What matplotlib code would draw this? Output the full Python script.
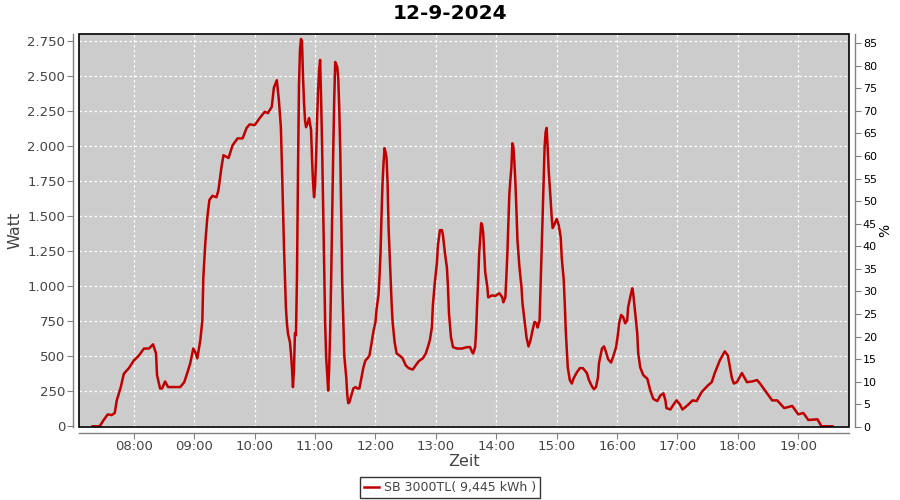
import matplotlib
matplotlib.use("Agg")
import matplotlib.pyplot as plt
import matplotlib.dates as mdates
from matplotlib.patches import Rectangle
from matplotlib.ticker import FuncFormatter
import pandas as pd

# ── Data ──────────────────────────────────────────────────────────────────────
DAY = "2024-09-12"
TITLE = "12-9-2024"
SERIES_LABEL = "SB 3000TL( 9,445 kWh )"

times = [
    "07:19", "07:26", "07:30", "07:34", "07:38", "07:41", "07:43", "07:47", "07:50", "07:55",
    "08:00", "08:05", "08:10", "08:15", "08:19", "08:22", "08:23", "08:26", "08:28", "08:31",
    "08:34", "08:42", "08:46", "08:50", "08:53", "08:56", "08:59", "09:01", "09:03", "09:06",
    "09:08", "09:09", "09:11", "09:13", "09:15", "09:18", "09:22", "09:24", "09:27", "09:29",
    "09:34", "09:38", "09:43", "09:48", "09:52", "09:55", "10:00", "10:05", "10:10", "10:13",
    "10:17", "10:19", "10:22", "10:24", "10:26", "10:27", "10:28", "10:29", "10:30", "10:31",
    "10:32", "10:33", "10:35", "10:36", "10:37", "10:38", "10:39", "10:40", "10:41", "10:42",
    "10:43", "10:44", "10:45", "10:46", "10:47", "10:48", "10:49", "10:50", "10:51", "10:53",
    "10:54", "10:56", "10:57", "10:58", "10:59", "11:00", "11:01", "11:02", "11:03", "11:04",
    "11:05", "11:06", "11:07", "11:08", "11:09", "11:10", "11:11", "11:12", "11:13", "11:14",
    "11:15", "11:16", "11:17", "11:18", "11:19", "11:20", "11:22", "11:23", "11:24", "11:25",
    "11:26", "11:27", "11:28", "11:29", "11:31", "11:32", "11:33", "11:34", "11:36", "11:38",
    "11:40", "11:42", "11:44", "11:46", "11:48", "11:50", "11:52", "11:54", "11:56", "11:58",
    "12:00", "12:01", "12:03", "12:04", "12:05", "12:06", "12:07", "12:08", "12:09", "12:10",
    "12:11", "12:12", "12:13", "12:14", "12:15", "12:16", "12:17", "12:19", "12:21", "12:24",
    "12:27", "12:30", "12:33", "12:37", "12:40", "12:43", "12:47", "12:50", "12:52", "12:54",
    "12:56", "12:57", "12:59", "13:01", "13:02", "13:04", "13:06", "13:07", "13:09", "13:11",
    "13:12", "13:13", "13:15", "13:17", "13:21", "13:26", "13:31", "13:34", "13:36", "13:37",
    "13:39", "13:40", "13:41", "13:42", "13:43", "13:45", "13:46", "13:47", "13:48", "13:49",
    "13:51", "13:52", "13:56", "13:59", "14:03", "14:06", "14:07", "14:09", "14:10", "14:11",
    "14:12", "14:13", "14:15", "14:16", "14:17", "14:18", "14:19", "14:20", "14:21", "14:23",
    "14:25", "14:26", "14:28", "14:30", "14:32", "14:34", "14:36", "14:38", "14:40", "14:41",
    "14:43", "14:44", "14:45", "14:46", "14:47", "14:48", "14:49", "14:50", "14:51", "14:52",
    "14:54", "14:55", "14:56", "14:58", "15:00", "15:02", "15:04", "15:05", "15:07", "15:08",
    "15:09", "15:10", "15:11", "15:13", "15:15", "15:17", "15:20", "15:23", "15:26", "15:30",
    "15:32", "15:35", "15:37", "15:39", "15:41", "15:42", "15:45", "15:47", "15:49", "15:51",
    "15:54", "15:56", "15:59", "16:01", "16:02", "16:04", "16:06", "16:08", "16:10", "16:11",
    "16:13", "16:15", "16:16", "16:18", "16:20", "16:21", "16:23", "16:26", "16:30", "16:33",
    "16:36", "16:40", "16:43", "16:46", "16:48", "16:49", "16:53", "16:56", "16:59", "17:02",
    "17:05", "17:10", "17:15", "17:19", "17:24", "17:30", "17:34", "17:37", "17:42", "17:47",
    "17:50", "17:54", "17:56", "17:59", "18:04", "18:09", "18:14", "18:19", "18:22", "18:27",
    "18:34", "18:39", "18:46", "18:54", "19:00", "19:05", "19:10", "19:19", "19:23", "19:34",
]

watts = [
    0, 0, 45, 85, 80, 95, 185, 280, 375, 415,
    470, 505, 555, 555, 585, 520, 365, 270, 270, 320,
    280, 280, 280, 315, 380, 450, 555, 530, 485, 615,
    755, 1065, 1315, 1495, 1615, 1645, 1635, 1685, 1850, 1935,
    1915, 2005, 2055, 2055, 2130, 2155, 2150, 2200, 2245, 2235,
    2280, 2415, 2470, 2330, 2135, 1880, 1595, 1305, 1065, 850,
    735, 665, 600, 520, 420, 280, 400, 665, 650, 1065,
    1800, 2435, 2685, 2765, 2745, 2495, 2315, 2185, 2135, 2170,
    2200, 2115, 1900, 1735, 1635, 1720, 1915, 2185, 2400, 2545,
    2615, 2330, 1985, 1565, 1135, 735, 495, 380, 255, 420,
    685, 1065, 1530, 1955, 2330, 2600, 2565, 2485, 2270, 1970,
    1480, 1020, 770, 505, 345, 220, 165, 170, 220, 270,
    280, 270, 270, 345, 420, 470, 485, 505, 590, 680,
    745, 830, 940, 1070, 1235, 1505, 1735, 1880, 1985, 1955,
    1915, 1735, 1420, 1235, 1045, 880, 745, 600, 520, 505,
    485, 435, 415, 405, 435, 465, 485, 520, 565, 615,
    705, 865, 1030, 1165, 1290, 1400, 1400, 1365, 1235, 1130,
    995, 805, 635, 565, 555, 555, 565, 565, 530, 520,
    565, 685, 880, 1045, 1235, 1450, 1435, 1380, 1235, 1100,
    1000, 920, 935, 930, 950, 920, 885, 920, 1065, 1235,
    1450, 1665, 1850, 2020, 1995, 1885, 1735, 1545, 1330, 1135,
    995, 880, 755, 635, 570, 615, 685, 745, 735, 705,
    755, 995, 1235, 1495, 1755, 1995, 2100, 2130, 1995, 1830,
    1615, 1495, 1415, 1445, 1480, 1435, 1350, 1205, 1045, 880,
    685, 545, 420, 330, 305, 345, 385, 415, 415, 380,
    330, 285, 265, 280, 350, 450, 555, 570, 530, 480,
    455, 495, 565, 665, 735, 795, 780, 735, 755, 850,
    920, 985, 950, 805, 665, 520, 420, 365, 340, 255,
    195, 180, 220, 235, 185, 130, 120, 155, 185, 160,
    120, 150, 185, 180, 245, 290, 315, 380, 470, 535,
    505, 345, 305, 315, 380, 315, 320, 330, 305, 255,
    185, 185, 130, 145, 85, 95, 45, 50, 0, 0,
]

watt_ticks = list(range(0, 2751, 250))
pct_ticks = list(range(0, 86, 5))

# ── Styling ───────────────────────────────────────────────────────────────────
LINE_RED = "#c00000"
PLOT_BG = "#cccccc"
AXIS_GREY = "#808080"
LABEL_GREY = "#444444"

plt.rcParams.update({
    "font.family": "DejaVu Sans",
    "axes.linewidth": 1.0,
})

t = pd.to_datetime([f"{DAY} {s}" for s in times])

fig = plt.figure(figsize=(9, 5), dpi=100, facecolor="white")
ax = fig.add_axes([0.0878, 0.146, 0.8555, 0.786])
ax.set_facecolor(PLOT_BG)

ax.plot(t, watts, color=LINE_RED, linewidth=1.8, label=SERIES_LABEL, zorder=3)

ax.set_xlim(pd.Timestamp(f"{DAY} 07:05:30"), pd.Timestamp(f"{DAY} 19:50:20"))
ax.set_ylim(-5, 2800)
ax.set_yticks(watt_ticks)
ax.yaxis.set_major_formatter(
    FuncFormatter(lambda v, _: f"{int(v):,}".replace(",", ".")))
ax.xaxis.set_major_locator(mdates.HourLocator())
ax.xaxis.set_major_formatter(mdates.DateFormatter("%H:%M"))

ax.grid(True, color="white", linestyle=(0, (2, 2)), linewidth=0.9, zorder=1)
ax.set_axisbelow(True)

# axis lines offset from the plot frame, frame drawn separately in black
for side in ("left", "bottom"):
    ax.spines[side].set_position(("outward", 4))
    ax.spines[side].set_color(AXIS_GREY)
for side in ("top", "right"):
    ax.spines[side].set_visible(False)
ax.add_patch(Rectangle((0, 0), 1, 1, transform=ax.transAxes, fill=False,
                       edgecolor="black", linewidth=1.2, clip_on=False, zorder=5))

ax.tick_params(axis="both", direction="out", length=4, color=AXIS_GREY,
               labelsize=9.5, labelcolor=LABEL_GREY, pad=2)
ax.tick_params(axis="x", pad=1)

ax.set_ylabel("Watt", fontsize=11.5, color=LABEL_GREY, labelpad=3)
ax.set_xlabel("Zeit", fontsize=11.5, color=LABEL_GREY, labelpad=1)
fig.text(0.5, 0.973, TITLE, ha="center", va="center",
         fontsize=14.5, fontweight="bold")

# right percentage axis
ax2 = ax.twinx()
ax2.set_ylim(0, 87)
ax2.set_yticks(pct_ticks)
for side in ("left", "bottom", "top"):
    ax2.spines[side].set_visible(False)
ax2.spines["right"].set_position(("outward", 4))
ax2.spines["right"].set_color(AXIS_GREY)
ax2.tick_params(axis="y", direction="out", length=4, color=AXIS_GREY,
                labelsize=8, labelcolor="black", pad=2)
ax2.set_ylabel("%", fontsize=10, rotation=90, labelpad=1)

leg = fig.legend(loc="lower center", bbox_to_anchor=(0.5, -0.008), frameon=True,
                 fancybox=False, edgecolor="black", fontsize=9, handlelength=1.2,
                 handletextpad=0.4, borderpad=0.3, labelcolor=LABEL_GREY)
leg.get_frame().set_linewidth(1.0)

fig.savefig("out.png", dpi=100, facecolor="white")
